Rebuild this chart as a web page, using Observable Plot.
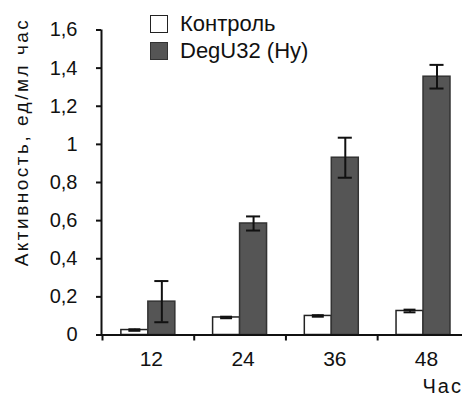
<!DOCTYPE html>
<html>
<head>
<meta charset="utf-8">
<script src="https://cdn.jsdelivr.net/npm/d3@7"></script>
<script src="https://cdn.jsdelivr.net/npm/@observablehq/plot@0.6"></script>
<style>
  html, body { margin: 0; padding: 0; background: #fff; }
  #wrap { position: relative; width: 462px; height: 399px; font-family: "Liberation Sans", Arial, sans-serif; }
  #legend { position: absolute; left: 150px; top: 14px; font-size: 22px; color: #111; }
  .item { display: flex; align-items: center; height: 19px; margin-bottom: 8px; }
  .sw { width: 16px; height: 16px; border: 1.5px solid #222; margin-right: 12px; box-sizing: content-box; }
</style>
</head>
<body>
<div id="wrap"><div id="legend"></div></div>
<script>
// Data
const hours = [12, 24, 36, 48];
const seriesNames = ["Контроль", "DegU32 (Hy)"];
const seriesFills = ["#ffffff", "#555555"];
const control = [0.026, 0.092, 0.10, 0.126];
const controlErr = [0.004, 0.004, 0.004, 0.007];
const degu = [0.175, 0.585, 0.93, 1.355];
const deguErr = [0.108, 0.037, 0.105, 0.062];
const yTicks = [0, 0.2, 0.4, 0.6, 0.8, 1, 1.2, 1.4, 1.6];
const xBoundaries = [6, 18, 30, 42];
const yLabel = "Активность, ед/мл час";
const xLabel = "Час";

const barW = 3.53;   // bar width in hours
const capHalf = 0.92; // error-cap half width in hours

const rows = hours.map((h, i) => ({
  hour: h,
  control: control[i], controlErr: controlErr[i],
  degu: degu[i], deguErr: deguErr[i]
}));

const font = "Liberation Sans, Arial, sans-serif";

const chart = Plot.plot({
  width: 462,
  height: 399,
  marginLeft: 101,
  marginRight: 0,
  marginTop: 29.5,
  marginBottom: 64.5,
  style: { fontFamily: font, background: "white", color: "#111" },
  x: { type: "linear", domain: [5.87, 53.1] },
  y: { domain: [0, 1.6] },
  marks: [
    // control bars
    Plot.rect(rows, { x1: d => d.hour - barW, x2: d => d.hour, y1: 0, y2: d => d.control,
      fill: seriesFills[0], stroke: "#222", strokeWidth: 1.5 }),
    // DegU bars
    Plot.rect(rows, { x1: d => d.hour, x2: d => d.hour + barW, y1: 0, y2: d => d.degu,
      fill: seriesFills[1], stroke: "#333", strokeWidth: 1.5 }),
    // error bars – control
    Plot.ruleX(rows, { x: d => d.hour - barW / 2, y1: d => d.control - d.controlErr, y2: d => d.control + d.controlErr, stroke: "#111", strokeWidth: 2 }),
    Plot.ruleY(rows, { y: d => d.control + d.controlErr, x1: d => d.hour - barW / 2 - capHalf * 0.85, x2: d => d.hour - barW / 2 + capHalf * 0.85, stroke: "#111", strokeWidth: 2 }),
    Plot.ruleY(rows, { y: d => d.control - d.controlErr, x1: d => d.hour - barW / 2 - capHalf * 0.85, x2: d => d.hour - barW / 2 + capHalf * 0.85, stroke: "#111", strokeWidth: 2 }),
    // error bars – DegU
    Plot.ruleX(rows, { x: d => d.hour + barW / 2, y1: d => d.degu - d.deguErr, y2: d => d.degu + d.deguErr, stroke: "#111", strokeWidth: 2 }),
    Plot.ruleY(rows, { y: d => d.degu + d.deguErr, x1: d => d.hour + barW / 2 - capHalf, x2: d => d.hour + barW / 2 + capHalf, stroke: "#111", strokeWidth: 2 }),
    Plot.ruleY(rows, { y: d => d.degu - d.deguErr, x1: d => d.hour + barW / 2 - capHalf, x2: d => d.hour + barW / 2 + capHalf, stroke: "#111", strokeWidth: 2 }),
    // axis lines
    Plot.ruleY([0], { stroke: "#111", strokeWidth: 2 }),
    Plot.ruleX([5.87], { stroke: "#111", strokeWidth: 2 }),
    // y axis
    Plot.axisY({ ticks: yTicks, tickSize: 5, tickPadding: 19, strokeWidth: 2,
      tickFormat: d => String(d).replace(".", ","), fontSize: 20, label: null }),
    // x axis tick marks at group boundaries
    Plot.axisX({ ticks: xBoundaries, tickSize: 6, strokeWidth: 2, tickFormat: () => "", label: null }),
    // x axis labels at group centers
    Plot.axisX({ ticks: hours, tickSize: 0, tickPadding: 16, fontSize: 21, dx: 3, label: null }),
    // axis titles
    Plot.text([yLabel], { frameAnchor: "left", rotate: -90, dx: -80, dy: -40.5, textAnchor: "middle",
      fontSize: 19, fill: "#111" }),
    Plot.text([xLabel], { frameAnchor: "bottom-right", textAnchor: "start", dx: -40, dy: 58,
      fontSize: 20, fill: "#111" })
  ]
});

// letter spacing for axis titles
d3.select(chart).selectAll("text").filter(function() { return this.textContent === yLabel; }).style("letter-spacing", "2.5px");
d3.select(chart).selectAll("text").filter(function() { return this.textContent === xLabel; }).style("letter-spacing", "2px");

const wrap = document.getElementById("wrap");
wrap.insertBefore(chart, wrap.firstChild);

const legend = d3.select("#legend");
seriesNames.forEach((name, i) => {
  const item = legend.append("div").attr("class", "item");
  item.append("div").attr("class", "sw").style("background", seriesFills[i]).style("border-color", i ? "#333" : "#222");
  item.append("span").text(name);
});
</script>
</body>
</html>
